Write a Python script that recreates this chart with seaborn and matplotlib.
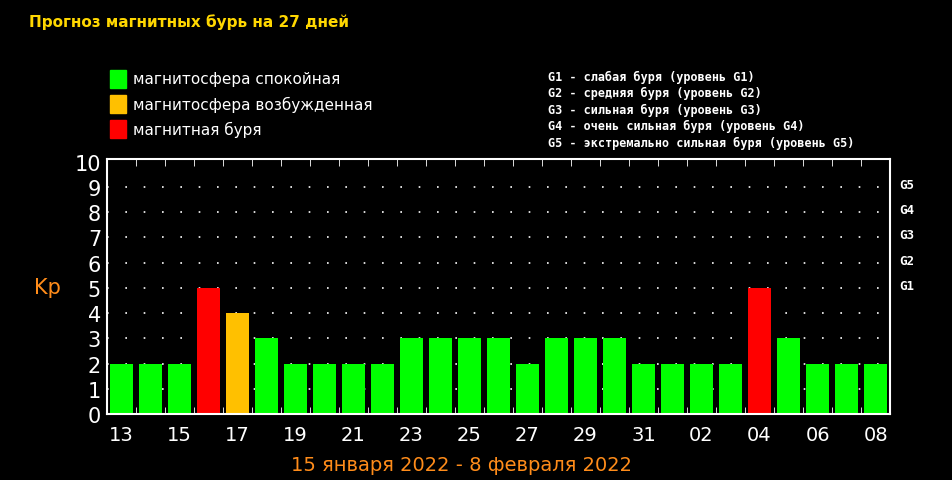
import numpy as np
import seaborn as sns
from matplotlib import pyplot as plt
from matplotlib.patches import Rectangle

days = ["13", "14", "15", "16", "17", "18", "19", "20", "21", "22", "23", "24", "25", "26",
        "27", "28", "29", "30", "31", "01", "02", "03", "04", "05", "06", "07", "08"]
kp = [2, 2, 2, 5, 4, 3, 2, 2, 2, 2, 3, 3, 3, 3, 2, 3, 3, 3, 2, 2, 2, 2, 5, 3, 2, 2, 2]
g_labels = ["G1", "G2", "G3", "G4", "G5"]
g_levels = [5, 6, 7, 8, 9]
legend_left = ["магнитосфера спокойная", "магнитосфера возбужденная", "магнитная буря"]
legend_right = ["G1 - слабая буря (уровень G1)", "G2 - средняя буря (уровень G2)",
                "G3 - сильная буря (уровень G3)", "G4 - очень сильная буря (уровень G4)",
                "G5 - экстремально сильная буря (уровень G5)"]

GREEN, ORANGE, RED = "#00ff00", "#ffc000", "#ff0000"


def color_for(v):
    if v >= 5:
        return RED
    if v == 4:
        return ORANGE
    return GREEN


sns.set_style("dark", {"axes.facecolor": "black", "figure.facecolor": "black"})
plt.rcParams["font.family"] = ["DejaVu Sans"]

fig = plt.figure(figsize=(9.52, 4.81), dpi=100)
ax = fig.add_axes([0.112, 0.137, 0.823, 0.53])
ax.set_facecolor("black")

x = np.arange(len(days))
for v in range(1, 10):
    ax.axhline(v, color="white", ls=(0, (1, 10)), lw=1.2, zorder=0)
sns.barplot(x=x, y=kp, hue=x, palette=[color_for(v) for v in kp], legend=False,
            width=0.8, saturation=1, ax=ax, zorder=2, linewidth=0)
ax.set_xlim(-0.5, len(days) - 0.5)
ax.set_ylim(0, 10.1)

for s in ax.spines.values():
    s.set_color("white")
    s.set_linewidth(1.5)
ax.set_yticks(range(11))
ax.set_yticklabels([str(i) for i in range(11)], color="white", fontsize=15)
ax.tick_params(axis="y", length=0, pad=4)
ax.set_xticks(x[::2])
ax.set_xticklabels(days[::2], color="white", fontsize=14)
ax.tick_params(axis="x", length=0, pad=8)
ax.set_xticks(x + 0.5, minor=True)
ax.tick_params(axis="x", which="minor", top=True, bottom=True, direction="in",
               length=5, color="white")
ax.set_xlabel("")
ax.grid(False)

ax.text(-0.075, 0.5, "Kp", transform=ax.transAxes, color="#ff8c1a", fontsize=15,
        ha="center", va="center")
for lab, lev in zip(g_labels, g_levels):
    ax.text(1.012, (lev + 0.1) / 10.1, lab, transform=ax.transAxes, color="white",
            fontsize=9, family="DejaVu Sans Mono", fontweight="bold", va="center")

fig.text(0.03, 0.955, "Прогноз магнитных бурь на 27 дней", color="#ffd700",
         fontsize=11, fontweight="bold", va="center")
for i, (lab, c) in enumerate(zip(legend_left, [GREEN, ORANGE, RED])):
    y = 0.834 - i * 0.052
    fig.patches.append(Rectangle((0.116, y - 0.018), 0.016, 0.036, color=c,
                                 transform=fig.transFigure))
    fig.text(0.14, y, lab, color="white", fontsize=11, va="center")
for i, lab in enumerate(legend_right):
    fig.text(0.576, 0.84 - i * 0.0345, lab, color="white", fontsize=8.5,
             family="DejaVu Sans Mono", fontweight="bold", va="center")
fig.text(0.485, 0.033, "15 января 2022 - 8 февраля 2022", color="#ff8c1a",
         fontsize=14, ha="center", va="center")

fig.savefig("out.png", dpi=100, facecolor="black")
